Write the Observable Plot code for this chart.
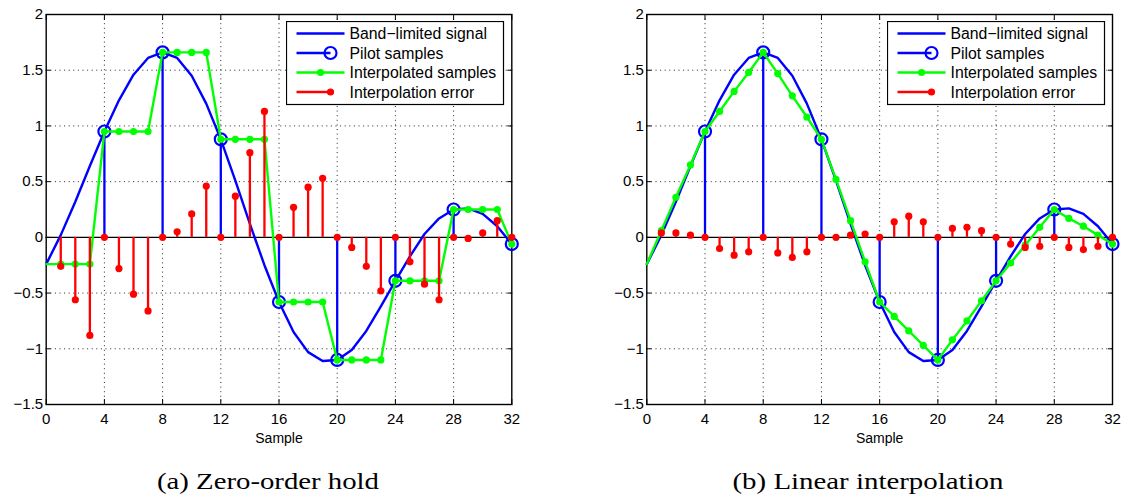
<!DOCTYPE html>
<html>
<head>
<meta charset="utf-8">
<script src="https://cdn.jsdelivr.net/npm/d3@7"></script>
<script src="https://cdn.jsdelivr.net/npm/@observablehq/plot@0.6"></script>
<style>
  body { margin: 0; background: #fff; }
  #fig { position: relative; width: 1123px; height: 499px; background: #fff; overflow: hidden; }
  #fig > svg, #fig > div { position: absolute; }
</style>
</head>
<body>
<div id="fig"></div>
<script>
// Sample positions along the horizontal axis
const sampleIndex = [0, 1, 2, 3, 4, 5, 6, 7, 8, 9, 10, 11, 12, 13, 14, 15, 16,
  17, 18, 19, 20, 21, 22, 23, 24, 25, 26, 27, 28, 29, 30, 31, 32];

// Band-limited signal evaluated at every sample
const signal = [-0.24, 0.02, 0.32, 0.64, 0.95, 1.23, 1.46, 1.61, 1.66, 1.61, 1.45, 1.20,
  0.88, 0.51, 0.12, -0.25, -0.58, -0.85, -1.03, -1.11, -1.10, -1.01, -0.84, -0.62,
  -0.39, -0.17, 0.03, 0.17, 0.25, 0.26, 0.21, 0.10, -0.06];

// Pilot samples (every 4th sample)
const pilotIndex = [4, 8, 12, 16, 20, 24, 28, 32];
const pilotValue = [0.95, 1.66, 0.88, -0.58, -1.10, -0.39, 0.25, -0.06];

// (a) zero-order hold: interpolated samples and their error (samples 1..32)
const holdSamples = [-0.24, -0.24, -0.24, -0.24, 0.95, 0.95, 0.95, 0.95, 1.66, 1.66, 1.66, 1.66,
  0.88, 0.88, 0.88, 0.88, -0.58, -0.58, -0.58, -0.58, -1.10, -1.10, -1.10, -1.10,
  -0.39, -0.39, -0.39, -0.39, 0.25, 0.25, 0.25, 0.25, -0.06];
const holdError = [-0.26, -0.56, -0.88, 0, -0.28, -0.51, -0.66, 0, 0.05, 0.21, 0.46, 0,
  0.37, 0.76, 1.13, 0, 0.27, 0.45, 0.53, 0, -0.09, -0.26, -0.48, 0,
  -0.22, -0.42, -0.56, 0, -0.01, 0.04, 0.15, 0];

// (b) linear interpolation: interpolated samples and their error (samples 1..32)
const linearSamples = [-0.24, 0.06, 0.36, 0.65, 0.95, 1.13, 1.31, 1.48, 1.66, 1.47, 1.27, 1.08,
  0.88, 0.52, 0.15, -0.22, -0.58, -0.71, -0.84, -0.97, -1.10, -0.92, -0.75, -0.57,
  -0.39, -0.23, -0.07, 0.09, 0.25, 0.17, 0.10, 0.02, -0.06];
const linearError = [0.04, 0.04, 0.02, 0, -0.10, -0.16, -0.13, 0, -0.14, -0.18, -0.13, 0,
  0.00, 0.02, 0.03, 0, 0.14, 0.19, 0.14, 0, 0.08, 0.09, 0.06, 0,
  -0.06, -0.09, -0.08, 0, -0.09, -0.11, -0.08, 0];

// Axis ticks and text
const xTicks = [0, 4, 8, 12, 16, 20, 24, 28, 32];
const yTicks = [-1.5, -1, -0.5, 0, 0.5, 1, 1.5, 2];
const xLabel = "Sample";
const seriesNames = ["Band\u2212limited signal", "Pilot samples", "Interpolated samples", "Interpolation error"];
const captions = ["(a) Zero-order hold", "(b) Linear interpolation"];

// Styling
const BLUE = "#0000ff", GREEN = "#00ff00", RED = "#ff0000";
const SANS = "'Liberation Sans', Arial, Helvetica, sans-serif";
const SERIF = "'Liberation Serif', 'Times New Roman', serif";
const LINE_W = 2.4, STEM_W = 2.3, CIRCLE_R = 6, CIRCLE_W = 2.2, DOT_R = 3.6;

// Plain number labels with a typographic minus: 2, 1.5, 0, −0.5 ...
const tickText = d => (d < 0 ? "\u2212" : "") + String(Math.abs(d));

const fig = document.getElementById("fig");

function panel(interp, error, layout) {
  const pts = sampleIndex.map((x, i) => ({x, s: signal[i], v: interp[i]}));
  const interpDots = pts.slice(1);
  const errPts = sampleIndex.slice(1).map((x, i) => ({x, e: error[i]}));
  const pilots = pilotIndex.map((x, i) => ({x, y: pilotValue[i]}));
  const dotted = {stroke: "#000", strokeOpacity: 0.85, strokeWidth: 1, strokeDasharray: "1,3.6"};
  const blank = () => "";

  return Plot.plot({
    width: layout.width,
    height: 450,
    marginTop: 14,
    marginBottom: 46,
    marginLeft: layout.marginLeft,
    marginRight: layout.marginRight,
    x: {domain: [0, 32]},
    y: {domain: [-1.5, 2]},
    style: {fontFamily: SANS, fontSize: "15px", background: "#fff", color: "#000", overflow: "visible"},
    marks: [
      // dotted grid
      Plot.ruleX(xTicks.slice(1, -1), dotted),
      Plot.ruleY(yTicks.filter(d => d !== 0 && d > -1.5 && d < 2), dotted),
      // box and inward ticks on all four sides
      Plot.frame({stroke: "#000", strokeWidth: 1.4}),
      Plot.axisX({ticks: xTicks, anchor: "bottom", tickSize: 5, dy: -5, tickFormat: blank, label: null, strokeWidth: 1}),
      Plot.axisX({ticks: xTicks, anchor: "top", tickSize: 5, dy: 5, tickFormat: blank, label: null, strokeWidth: 1}),
      Plot.axisY({ticks: yTicks, anchor: "left", tickSize: 5, dx: 5, tickFormat: blank, label: null, strokeWidth: 1}),
      Plot.axisY({ticks: yTicks, anchor: "right", tickSize: 5, dx: -5, tickFormat: blank, label: null, strokeWidth: 1}),
      // tick labels
      Plot.axisX({ticks: xTicks, anchor: "bottom", tickSize: 0, tickPadding: 9, label: null, fontSize: 15, tickFormat: tickText}),
      Plot.axisY({ticks: yTicks, anchor: "left", tickSize: 0, tickPadding: 3, label: null, fontSize: 15, tickFormat: tickText}),
      Plot.text([xLabel], {text: d => d, frameAnchor: "bottom", dy: 34, lineAnchor: "middle", fontSize: 14}),
      // stem baseline
      Plot.ruleY([0], {stroke: "#000", strokeWidth: 1.2}),
      // band-limited signal
      Plot.line(pts, {x: "x", y: "s", stroke: BLUE, strokeWidth: LINE_W}),
      // pilot samples as stems with open circles
      Plot.ruleX(pilots, {x: "x", y1: 0, y2: "y", stroke: BLUE, strokeWidth: STEM_W}),
      Plot.dot(pilots, {x: "x", y: "y", r: CIRCLE_R, stroke: BLUE, strokeWidth: CIRCLE_W, fill: "none"}),
      // interpolated samples
      Plot.line(pts, {x: "x", y: "v", stroke: GREEN, strokeWidth: LINE_W}),
      Plot.dot(interpDots, {x: "x", y: "v", r: DOT_R, fill: GREEN}),
      // interpolation error stems
      Plot.ruleX(errPts, {x: "x", y1: 0, y2: "e", stroke: RED, strokeWidth: STEM_W}),
      Plot.dot(errPts, {x: "x", y: "e", r: DOT_R, fill: RED})
    ]
  });
}

function legend() {
  const w = 217, h = 83;
  const svg = d3.create("svg").attr("width", w + 2).attr("height", h + 2)
    .style("font-family", SANS).style("font-size", "15.8px");
  svg.append("rect").attr("x", 0.5).attr("y", 0.5).attr("width", w).attr("height", h)
    .attr("fill", "#fff").attr("stroke", "#000").attr("stroke-width", 1.2);
  const rowY = [12.5, 32, 51.5, 71];
  const x0 = 10.5, x1 = 58.5;
  // Band-limited signal
  svg.append("line").attr("x1", x0).attr("x2", x1).attr("y1", rowY[0]).attr("y2", rowY[0])
    .attr("stroke", BLUE).attr("stroke-width", LINE_W);
  // Pilot samples
  svg.append("line").attr("x1", x0).attr("x2", 44.5).attr("y1", rowY[1]).attr("y2", rowY[1])
    .attr("stroke", BLUE).attr("stroke-width", LINE_W);
  svg.append("circle").attr("cx", 44.5).attr("cy", rowY[1]).attr("r", CIRCLE_R)
    .attr("fill", "none").attr("stroke", BLUE).attr("stroke-width", CIRCLE_W);
  // Interpolated samples
  svg.append("line").attr("x1", x0).attr("x2", x1).attr("y1", rowY[2]).attr("y2", rowY[2])
    .attr("stroke", GREEN).attr("stroke-width", LINE_W);
  svg.append("circle").attr("cx", 34.5).attr("cy", rowY[2]).attr("r", DOT_R).attr("fill", GREEN);
  // Interpolation error
  svg.append("line").attr("x1", x0).attr("x2", 44.5).attr("y1", rowY[3]).attr("y2", rowY[3])
    .attr("stroke", RED).attr("stroke-width", LINE_W);
  svg.append("circle").attr("cx", 44.5).attr("cy", rowY[3]).attr("r", DOT_R).attr("fill", RED);
  seriesNames.forEach((name, i) => {
    svg.append("text").attr("x", 63.5).attr("y", rowY[i]).attr("dy", "0.36em")
      .attr("fill", "#000").text(name);
  });
  return svg.node();
}

const layouts = [
  {left: 0, width: 560, marginLeft: 45.7, marginRight: 48.7, legendLeft: 286.2},
  {left: 600, width: 523, marginLeft: 46.3, marginRight: 11, legendLeft: 886.8}
];
const series = [[holdSamples, holdError], [linearSamples, linearError]];

layouts.forEach((lay, i) => {
  const chart = panel(series[i][0], series[i][1], lay);
  chart.style.left = lay.left + "px";
  chart.style.top = "0px";
  fig.appendChild(chart);
  const leg = legend();
  leg.style.left = lay.legendLeft + "px";
  leg.style.top = "20.8px";
  fig.appendChild(leg);
});

// Sub-figure captions
const cap = d3.create("svg").attr("width", 1123).attr("height", 499)
  .style("left", "0px").style("top", "0px").style("pointer-events", "none");
const capCenters = [268, 868];
const capWidths = [222, 271];
captions.forEach((t, i) => {
  cap.append("text")
    .attr("x", capCenters[i] - capWidths[i] / 2)
    .attr("y", 489)
    .attr("textLength", capWidths[i])
    .attr("lengthAdjust", "spacingAndGlyphs")
    .style("font-family", SERIF)
    .style("font-size", "23px")
    .attr("fill", "#000")
    .text(t);
});
fig.appendChild(cap.node());
</script>
</body>
</html>
